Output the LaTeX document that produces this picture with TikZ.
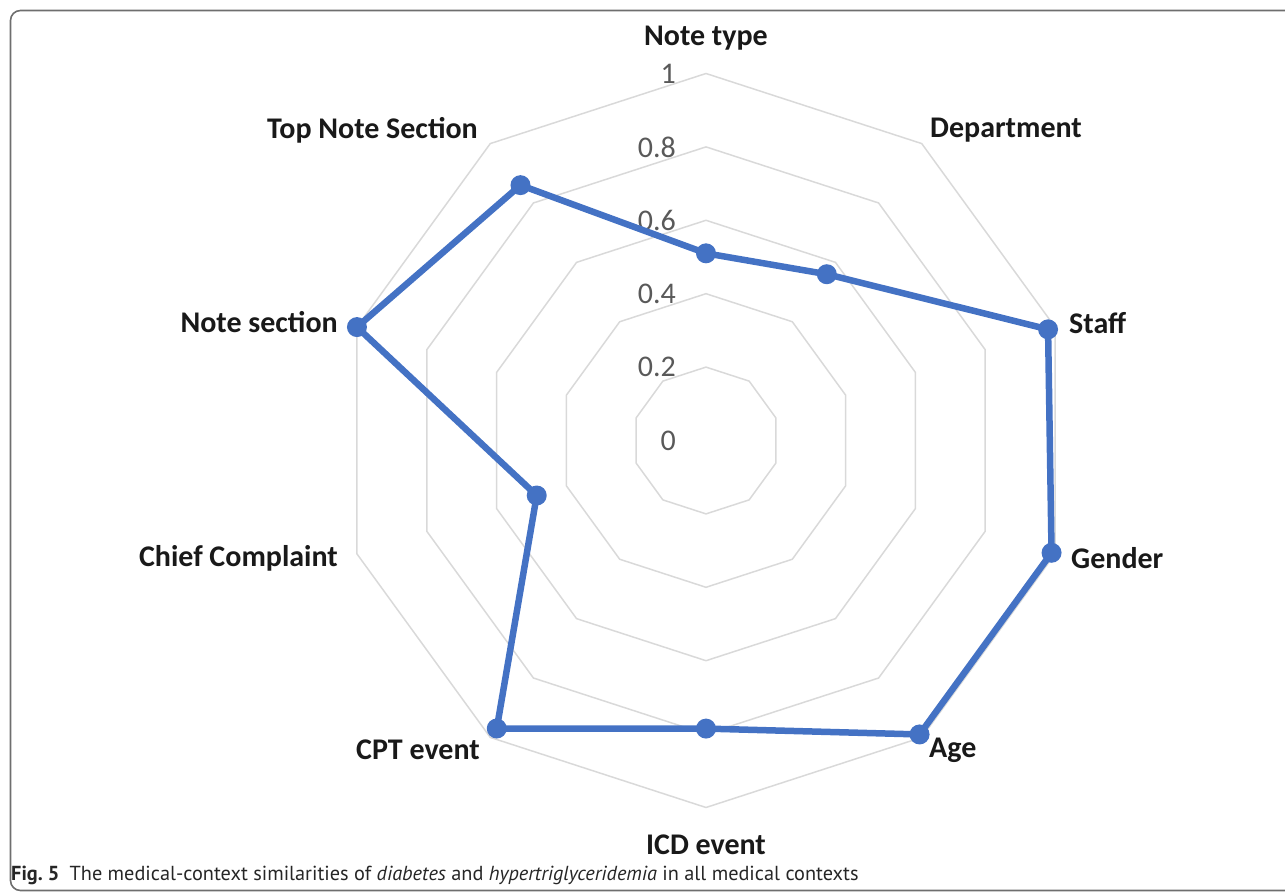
\documentclass[tikz,border=0pt]{standalone}
\usepackage{fontspec}
\usetikzlibrary{calc}
\setmainfont{Carlito}
\newfontfamily\capfont{PT Sans}
\definecolor{serieblue}{HTML}{4472C4}
\definecolor{gridgray}{HTML}{D9D9D9}
\definecolor{ticktxt}{HTML}{595959}
\definecolor{framegray}{HTML}{6E6E6E}
\begin{document}
\begin{tikzpicture}[x=1pt,y=1pt,
  gridline/.style={draw=gridgray,line width=1.5pt,line join=round},
  serieline/.style={draw=serieblue,line width=6.5pt,line join=round,line cap=round},
  dotmark/.style={circle,fill=serieblue,minimum size=20pt,inner sep=0pt},
  catlabel/.style={font=\fontsize{30}{34}\selectfont\bfseries,text=black!90,inner sep=0pt},
  ticklabel/.style={font=\fontsize{30}{34}\selectfont,text=ticktxt,inner sep=0pt,anchor=east}]
\useasboundingbox (0,0) rectangle (1285,892);
% frame
\draw[framegray,line width=1.6pt,rounded corners=10pt] (10.5,1.5) rectangle (1320,881.5);
\coordinate (C) at (706,451.5);
% grid decagons
\foreach \v in {0.2,0.4,0.6,0.8,1.0}{
  \draw[gridline] ($(C)+(90:367*\v)$)
    \foreach \k in {1,...,9}{ -- ($(C)+(90-36*\k:367*\v)$) } -- cycle;
}
% tick labels
\foreach \v/\t in {0/0,0.2/0.2,0.4/0.4,0.6/0.6,0.8/0.8,1/1}{
  \node[ticklabel] (t\t) at ($(C)+(-30,367*\v)$) {\t};
}
% data points
\foreach \i/\v in {0/0.51,1/0.56,2/0.98,3/0.99,4/0.99,5/0.785,6/0.97,7/0.485,8/1.0,9/0.86}{
  \coordinate (p\i) at ($(C)+(90-36*\i:367*\v)$);
}
\draw[serieline] (p0) -- (p1) -- (p2) -- (p3) -- (p4) -- (p5) -- (p6) -- (p7) -- (p8) -- (p9) -- cycle;
\foreach \i in {0,...,9}{ \node[dotmark] (m\i) at (p\i) {}; }
% category labels
\node[catlabel] (l0) at (706,854) {Note type};
\node[catlabel] (l1) at (1006,762) {Department};
\node[catlabel,anchor=west] (l2) at (1069,569) {Staff};
\node[catlabel,anchor=west] (l3) at (1071,334) {Gender};
\node[catlabel,anchor=west] (l4) at (929,142) {Age};
\node[catlabel] (l5) at (706,47) {ICD event};
\node[catlabel,anchor=east] (l6) at (480,142) {CPT event};
\node[catlabel,anchor=east] (l7) at (338,334) {Chief Complaint};
\node[catlabel,anchor=east] (l8) at (338,570) {Note section};
\node[catlabel,anchor=east] (l9) at (478,762) {Top Note Section};
% caption
\node[anchor=base west,inner sep=0pt,font=\capfont\fontsize{20.3}{24}\selectfont,text=black!85] (cap) at (11,12)
  {\textbf{Fig.~5}\hspace{0.5em}The medical-context similarities of \textit{diabetes} and \textit{hypertriglyceridemia} in all medical contexts};
\end{tikzpicture}
\end{document}
